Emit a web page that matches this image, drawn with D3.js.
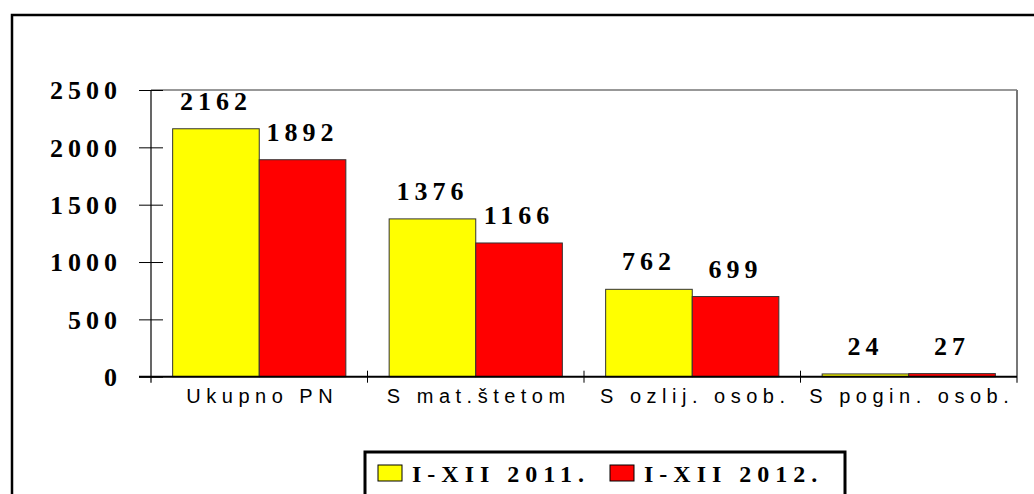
<!DOCTYPE html>
<html>
<head>
<meta charset="utf-8">
<script src="https://cdn.jsdelivr.net/npm/d3@7"></script>
<style>
  body { margin: 0; background: #fff; overflow: hidden; }
</style>
</head>
<body>
<script>
"use strict";

const categories = ["Ukupno PN", "S mat.štetom", "S ozlij. osob.", "S pogin. osob."];
const seriesNames = ["I-XII 2011.", "I-XII 2012."];
const values2011 = [2162, 1376, 762, 24];
const values2012 = [1892, 1166, 699, 27];
const yTicks = [0, 500, 1000, 1500, 2000, 2500];
const colors = ["#ffff00", "#ff0000"];

const m = { width: 1034, height: 494 };
const plot = { left: 151, right: 1017, top: 90, bottom: 376.7 };

const svg = d3
  .select("body")
  .append("svg")
  .attr("width", m.width)
  .attr("height", m.height);

// outer frame (runs off the page on the right and bottom)
svg.append("rect")
  .attr("x", 12)
  .attr("y", 15)
  .attr("width", 1040)
  .attr("height", 500)
  .attr("fill", "none")
  .attr("stroke", "#000")
  .attr("stroke-width", 2.5);

const y = d3.scaleLinear().domain([0, 2500]).range([plot.bottom, plot.top]);

const x0 = d3
  .scaleBand()
  .domain(categories)
  .range([plot.left, plot.right])
  .paddingInner(0.2)
  .paddingOuter(0.1);

const x1 = d3
  .scaleBand()
  .domain(seriesNames)
  .range([0, x0.bandwidth()]);

// plot frame: top and right edges
svg.append("line")
  .attr("x1", plot.left).attr("x2", plot.right)
  .attr("y1", plot.top).attr("y2", plot.top)
  .attr("stroke", "#333").attr("stroke-width", 1.2);
svg.append("line")
  .attr("x1", plot.right).attr("x2", plot.right)
  .attr("y1", plot.top).attr("y2", plot.bottom + 6)
  .attr("stroke", "#777").attr("stroke-width", 2);

// bars
const rows = categories.map((c, i) => ({ cat: c, vals: [values2011[i], values2012[i]] }));

const groups = svg.append("g")
  .selectAll("g")
  .data(rows)
  .enter()
  .append("g")
  .attr("transform", d => `translate(${x0(d.cat)},0)`);

groups.selectAll("rect")
  .data(d => d.vals.map((v, j) => ({ name: seriesNames[j], v: v, j: j })))
  .enter()
  .append("rect")
  .attr("x", d => x1(d.name))
  .attr("y", d => y(d.v))
  .attr("width", x1.bandwidth())
  .attr("height", d => y(0) - y(d.v))
  .attr("fill", d => colors[d.j])
  .attr("stroke", "#333")
  .attr("stroke-width", 1);

groups.selectAll("text")
  .data(d => d.vals.map((v, j) => ({ name: seriesNames[j], v: v })))
  .enter()
  .append("text")
  .attr("x", d => x1(d.name) + x1.bandwidth() / 2)
  .attr("y", d => y(d.v) - 19)
  .attr("text-anchor", "middle")
  .style("font-family", "'Liberation Serif', 'Times New Roman', serif")
  .style("font-weight", "bold")
  .style("font-size", "26px")
  .style("letter-spacing", "5px")
  .text(d => d.v);

// y axis
const yAxis = svg.append("g")
  .attr("transform", `translate(${plot.left},0)`)
  .call(d3.axisLeft(y).tickValues(yTicks).tickFormat(d3.format("d")).tickSize(12).tickPadding(17));

yAxis.select(".domain").remove();
yAxis.selectAll(".tick line")
  .attr("x1", 12)
  .attr("stroke", "#000");
yAxis.selectAll(".tick text")
  .attr("dy", "0.34em")
  .style("font-family", "'Liberation Serif', 'Times New Roman', serif")
  .style("font-weight", "bold")
  .style("font-size", "26px")
  .style("letter-spacing", "5px")
  .attr("fill", "#000");

svg.append("line")
  .attr("x1", plot.left).attr("x2", plot.left)
  .attr("y1", plot.top).attr("y2", plot.bottom + 6)
  .attr("stroke", "#000").attr("stroke-width", 1.2);

// x axis
const xAxis = svg.append("g")
  .attr("transform", `translate(0,${plot.bottom})`)
  .call(d3.axisBottom(x0).tickSize(0).tickPadding(26));

xAxis.select(".domain").remove();
xAxis.selectAll(".tick text")
  .attr("dy", "0")
  .attr("dx", "3")
  .style("font-family", "'Liberation Sans', Arial, sans-serif")
  .style("font-size", "20px")
  .style("letter-spacing", "5.5px")
  .attr("fill", "#000");

svg.append("line")
  .attr("x1", plot.left - 12).attr("x2", plot.right)
  .attr("y1", plot.bottom).attr("y2", plot.bottom)
  .attr("stroke", "#000").attr("stroke-width", 2);

// category separators on the x axis
const step = x0.step();
svg.append("g")
  .selectAll("line")
  .data(categories.slice(1))
  .enter()
  .append("line")
  .attr("x1", d => x0(d) - step * 0.1)
  .attr("x2", d => x0(d) - step * 0.1)
  .attr("y1", plot.bottom - 6)
  .attr("y2", plot.bottom + 6)
  .attr("stroke", "#000")
  .attr("stroke-width", 1);

// legend
const legend = svg.append("g");
legend.append("rect")
  .attr("x", 365)
  .attr("y", 452)
  .attr("width", 480)
  .attr("height", 60)
  .attr("fill", "#fff")
  .attr("stroke", "#000")
  .attr("stroke-width", 3);

const legendX = [378, 610];
seriesNames.forEach((name, i) => {
  legend.append("rect")
    .attr("x", legendX[i])
    .attr("y", 465)
    .attr("width", 24)
    .attr("height", 16)
    .attr("fill", colors[i])
    .attr("stroke", "#000")
    .attr("stroke-width", 1);
  legend.append("text")
    .attr("x", legendX[i] + 34)
    .attr("y", 482)
    .style("font-family", "'Liberation Serif', 'Times New Roman', serif")
    .style("font-weight", "bold")
    .style("font-size", "24px")
    .style("letter-spacing", "6px")
    .text(name);
});
</script>
</body>
</html>
